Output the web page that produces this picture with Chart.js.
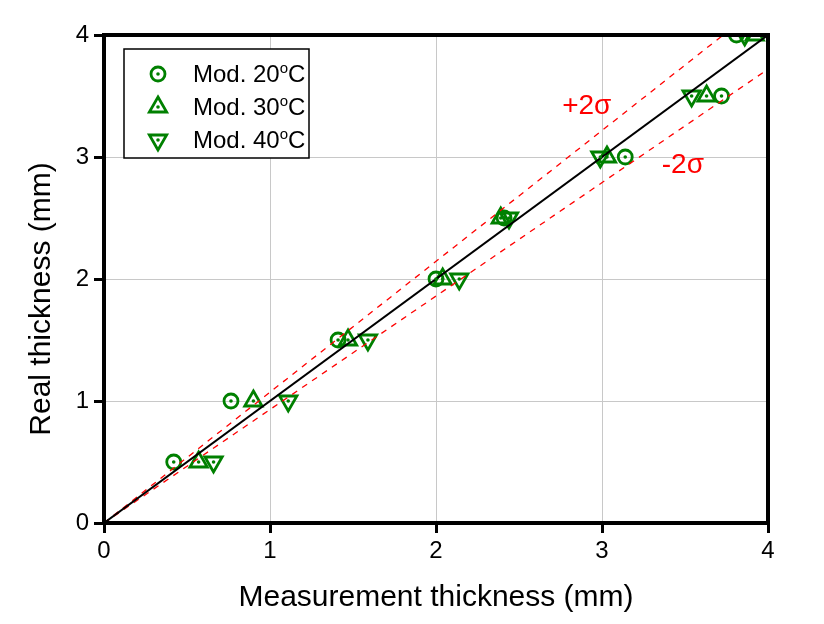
<!DOCTYPE html>
<html>
<head>
<meta charset="utf-8">
<script src="https://cdn.jsdelivr.net/npm/chart.js@4"></script>
<style>
  html, body { margin: 0; padding: 0; background: #fff; }
  #wrap { width: 824px; height: 624px; }
</style>
</head>
<body>
<div id="wrap"><canvas id="chart" width="824" height="624"></canvas></div>
<script>
// real thickness levels (y) and measured values per model (x)
const realThickness = [0.5, 1, 1.5, 2, 2.5, 3, 3.5, 4];
const mod20 = [0.42, 0.765, 1.41, 2.0, 2.41, 3.14, 3.72, 3.81];
const mod30 = [0.57, 0.9, 1.47, 2.04, 2.39, 3.03, 3.63, 3.92];
const mod40 = [0.66, 1.11, 1.59, 2.14, 2.44, 2.99, 3.54, 3.86];
const seriesNames = ['Mod. 20', 'Mod. 30', 'Mod. 40'];
const axisTicks = [0, 1, 2, 3, 4];
const fitLine = [[0, 0], [4, 4]];
const upperSigma = [[0, 0], [3.73, 4]];
const lowerSigma = [[0, 0], [4, 3.72]];

const GREEN = '#008000';
const FONT = "'Liberation Sans', Arial, sans-serif";

const toPoints = (xs) => xs.map((x, i) => ({ x: x, y: realThickness[i] }));
const toXY = (arr) => arr.map(p => ({ x: p[0], y: p[1] }));

const markerSet = (label, xs, style, radius, rotation) => ({
  label: label,
  data: toPoints(xs),
  showLine: false,
  pointStyle: style,
  pointRadius: radius,
  pointRotation: rotation,
  pointBorderColor: GREEN,
  pointBackgroundColor: 'rgba(0,0,0,0)',
  pointBorderWidth: 2.8,
  order: 2
});

const lineSet = (data, color, width, dash) => ({
  data: toXY(data),
  showLine: true,
  borderColor: color,
  borderWidth: width,
  borderDash: dash,
  pointRadius: 0,
  fill: false,
  order: 1
});

// small filled dot at the centre of every marker, and frame + texts
const extras = {
  id: 'extras',
  afterDatasetsDraw(chart) {
    const ctx = chart.ctx;
    ctx.save();
    ctx.fillStyle = GREEN;
    [0, 1, 2].forEach(i => {
      chart.getDatasetMeta(i).data.forEach(el => {
        ctx.beginPath();
        ctx.arc(el.x, el.y, 1.8, 0, Math.PI * 2);
        ctx.fill();
      });
    });
    ctx.restore();
  },
  afterDraw(chart) {
    const ctx = chart.ctx;
    const a = chart.chartArea;
    const xs = chart.scales.x, ys = chart.scales.y;
    ctx.save();
    // frame
    ctx.strokeStyle = '#000';
    ctx.lineWidth = 4;
    ctx.strokeRect(a.left, a.top, a.right - a.left, a.bottom - a.top);

    // sigma labels
    ctx.fillStyle = '#ff0000';
    ctx.font = '28px ' + FONT;
    ctx.textBaseline = 'alphabetic';
    ctx.textAlign = 'left';
    ctx.fillText('+2\u03c3', xs.getPixelForValue(2.76), ys.getPixelForValue(3.35));
    ctx.fillText('-2\u03c3', xs.getPixelForValue(3.36), ys.getPixelForValue(2.87));

    // legend box
    const lx = 124, ly = 49, lw = 185, lh = 109;
    ctx.fillStyle = '#fff';
    ctx.fillRect(lx, ly, lw, lh);
    ctx.strokeStyle = '#000';
    ctx.lineWidth = 1.5;
    ctx.strokeRect(lx, ly, lw, lh);
    const rows = [73, 106, 139];
    const styles = [['circle', 7, 0], ['triangle', 10, 0], ['triangle', 10, 180]];
    rows.forEach((ry, i) => {
      ctx.strokeStyle = GREEN;
      ctx.fillStyle = 'rgba(0,0,0,0)';
      ctx.lineWidth = 2.8;
      Chart.helpers.drawPoint(ctx, { pointStyle: styles[i][0], radius: styles[i][1], rotation: styles[i][2], borderWidth: 2.8 }, 158, ry + 1);
      ctx.fillStyle = GREEN;
      ctx.beginPath();
      ctx.arc(158, ry + 1, 1.8, 0, Math.PI * 2);
      ctx.fill();
      ctx.fillStyle = '#000';
      ctx.font = '24px ' + FONT;
      ctx.textAlign = 'left';
      ctx.textBaseline = 'alphabetic';
      let tx = 193;
      const base = ry + 9;
      ctx.fillText(seriesNames[i], tx, base);
      tx += ctx.measureText(seriesNames[i]).width;
      ctx.font = '15px ' + FONT;
      ctx.fillText('o', tx, base - 9);
      tx += ctx.measureText('o').width;
      ctx.font = '24px ' + FONT;
      ctx.fillText('C', tx, base);
    });

    // axis titles
    ctx.fillStyle = '#000';
    ctx.font = '30px ' + FONT;
    ctx.textAlign = 'center';
    ctx.textBaseline = 'middle';
    ctx.fillText('Measurement thickness (mm)', 436, 598);
    ctx.translate(42, 299);
    ctx.rotate(-Math.PI / 2);
    ctx.fillText('Real thickness (mm)', 0, 0);
    ctx.restore();
  }
};

const tickCfg = {
  font: { family: FONT, size: 24 },
  color: '#000',
  stepSize: 1,
  callback: (v) => axisTicks.includes(v) ? String(v) : ''
};

new Chart(document.getElementById('chart').getContext('2d'), {
  type: 'scatter',
  data: {
    datasets: [
      markerSet('Mod. 20', mod20, 'circle', 7, 0),
      markerSet('Mod. 30', mod30, 'triangle', 10, 0),
      markerSet('Mod. 40', mod40, 'triangle', 10, 180),
      lineSet(fitLine, '#000', 2, []),
      lineSet(upperSigma, '#ff0000', 1.3, [6, 6]),
      lineSet(lowerSigma, '#ff0000', 1.3, [6, 6])
    ]
  },
  options: {
    responsive: false,
    animation: false,
    layout: { padding: { left: 0, top: 35, right: 56, bottom: 0 } },
    plugins: { legend: { display: false }, tooltip: { enabled: false } },
    scales: {
      x: {
        type: 'linear', min: 0, max: 4,
        grid: { color: '#c8c8c8', lineWidth: 1, tickLength: 10, tickColor: '#000', tickWidth: 3 },
        border: { display: false },
        ticks: Object.assign({ padding: 4, maxRotation: 0 }, tickCfg),
        afterFit: (s) => { s.height = 101; }
      },
      y: {
        type: 'linear', min: 0, max: 4,
        grid: { color: '#c8c8c8', lineWidth: 1, tickLength: 10, tickColor: '#000', tickWidth: 3 },
        border: { display: false },
        ticks: Object.assign({ padding: 5 }, tickCfg),
        afterFit: (s) => { s.width = 104; }
      }
    }
  },
  plugins: [extras]
});
</script>
</body>
</html>
